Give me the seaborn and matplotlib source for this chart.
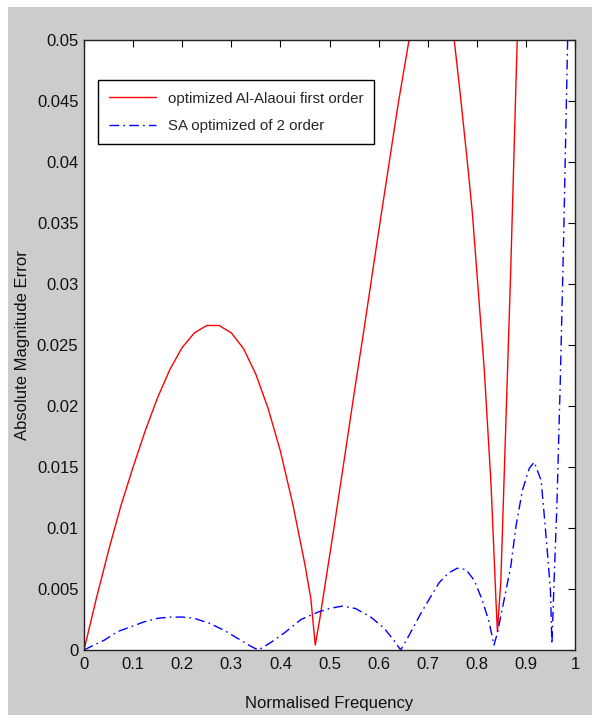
import numpy as np
import pandas as pd
import matplotlib
matplotlib.use("Agg")
import matplotlib.pyplot as plt
from matplotlib.patches import Rectangle
import seaborn as sns

# values
red_x = [0.000, 0.025, 0.051, 0.075, 0.100, 0.125, 0.150, 0.175, 0.200, 0.225,
         0.250, 0.275, 0.300, 0.325, 0.350, 0.375, 0.400, 0.425, 0.450, 0.462,
         0.471, 0.480, 0.509, 0.530, 0.550, 0.570, 0.587, 0.605, 0.621, 0.640,
         0.662, 0.680, 0.700, 0.720, 0.740, 0.754, 0.767, 0.781, 0.791, 0.808,
         0.815, 0.829, 0.839, 0.842, 0.849, 0.859, 0.869, 0.880, 0.890]
red_y = [0.0000, 0.0042, 0.0083, 0.0118, 0.0150, 0.0180, 0.0207, 0.0230, 0.0248, 0.0260,
         0.0266, 0.0266, 0.0260, 0.0247, 0.0226, 0.0198, 0.0163, 0.0120, 0.0070, 0.0042,
         0.0004, 0.0025, 0.0100, 0.0156, 0.0210, 0.0262, 0.0308, 0.0356, 0.0398, 0.0448,
         0.0500, 0.0538, 0.0560, 0.0562, 0.0538, 0.0500, 0.0453, 0.0399, 0.0358, 0.0268,
         0.0231, 0.0136, 0.0041, 0.0015, 0.0057, 0.0184, 0.0310, 0.0468, 0.0600]

blue_x = [0.000, 0.020, 0.041, 0.068, 0.095, 0.122, 0.150, 0.177, 0.200, 0.224,
          0.255, 0.286, 0.315, 0.340, 0.355, 0.380, 0.408, 0.442, 0.476, 0.500,
          0.526, 0.553, 0.584, 0.611, 0.631, 0.645, 0.662, 0.686, 0.705, 0.723,
          0.742, 0.760, 0.778, 0.795, 0.811, 0.825, 0.835, 0.842, 0.852, 0.869,
          0.880, 0.893, 0.907, 0.917, 0.931, 0.937, 0.944, 0.950, 0.953, 0.958,
          0.963, 0.970, 0.977, 0.985, 0.992]
blue_y = [0.0000, 0.0004, 0.0008, 0.0015, 0.0019, 0.0023, 0.0026, 0.0027, 0.0027, 0.0026,
          0.0022, 0.0016, 0.0009, 0.0003, 0.0000, 0.0006, 0.0014, 0.0025, 0.0031, 0.0034,
          0.0036, 0.0034, 0.0027, 0.0018, 0.0008, 0.0000, 0.0012, 0.0030, 0.0043, 0.0055,
          0.0063, 0.0067, 0.0066, 0.0057, 0.0041, 0.0023, 0.0004, 0.0014, 0.0034, 0.0068,
          0.0102, 0.0131, 0.0149, 0.0154, 0.0139, 0.0112, 0.0079, 0.0049, 0.0005, 0.0063,
          0.0117, 0.0220, 0.0340, 0.0500, 0.0620]

red_label = "optimized Al-Alaoui first order"
blue_label = "SA optimized of 2 order"

x_ticks = [0, 0.1, 0.2, 0.3, 0.4, 0.5, 0.6, 0.7, 0.8, 0.9, 1]
x_tick_labels = ["0", "0.1", "0.2", "0.3", "0.4", "0.5", "0.6", "0.7", "0.8", "0.9", "1"]
y_ticks = [0, 0.005, 0.01, 0.015, 0.02, 0.025, 0.03, 0.035, 0.04, 0.045, 0.05]
y_tick_labels = ["0", "0.005", "0.01", "0.015", "0.02", "0.025", "0.03", "0.035", "0.04", "0.045", "0.05"]

red_df = pd.DataFrame({"f": red_x, "err": red_y})
blue_df = pd.DataFrame({"f": blue_x, "err": blue_y})

sns.set_theme(style="white")
plt.rcParams["font.family"] = ["Liberation Sans Narrow", "Liberation Sans", "DejaVu Sans"]
plt.rcParams["xtick.direction"] = "in"
plt.rcParams["ytick.direction"] = "in"

fig = plt.figure(figsize=(5.92, 7.15), dpi=100)
fig.patch.set_facecolor("white")
# grey MATLAB figure area (small white margin on the top and left)
fig.patches.append(Rectangle((8 / 592, 0), 1, (715 - 7) / 715, transform=fig.transFigure,
                             facecolor="#cccccc", edgecolor="none", zorder=-5))

ax = fig.add_axes([84 / 592, 65 / 715, 491 / 592, 610 / 715])
ax.set_facecolor("white")

sns.lineplot(data=red_df, x="f", y="err", ax=ax, color="red", linewidth=1.0,
             label=red_label, sort=False)
sns.lineplot(data=blue_df, x="f", y="err", ax=ax, color="blue", linewidth=1.0,
             label=blue_label, sort=False)
ax.lines[1].set_dashes([7, 3, 1.2, 3])

ax.set_xlim(0, 1)
ax.set_ylim(0, 0.05)
ax.set_xticks(x_ticks)
ax.set_xticklabels(x_tick_labels)
ax.set_yticks(y_ticks)
ax.set_yticklabels(y_tick_labels)
ax.tick_params(axis="both", which="both", labelsize=12, length=5, width=0.8,
               color="black", labelcolor="#111111", top=True, right=True, pad=4)
ax.tick_params(axis="x", pad=5)
for s in ax.spines.values():
    s.set_visible(True)
    s.set_color("#222222")
    s.set_linewidth(1.0)

ax.set_xlabel("Normalised Frequency", fontsize=12, color="#111111", labelpad=17)
ax.set_ylabel("Absolute Magnitude Error", fontsize=12, color="#111111", labelpad=0)
ax.yaxis.set_label_coords(-0.11, 0.5)

leg = ax.legend(loc="upper left", bbox_to_anchor=(0.0285, 0.934), fontsize=10.8,
                frameon=True, fancybox=False, edgecolor="black", framealpha=1,
                handlelength=3.1, handletextpad=0.8, borderpad=0.75,
                labelspacing=0.9, borderaxespad=0)
leg.get_frame().set_linewidth(1.0)
leg.get_lines()[1].set_dashes([7, 3, 1.2, 3])

fig.savefig("out.png", dpi=100, facecolor=fig.get_facecolor())
